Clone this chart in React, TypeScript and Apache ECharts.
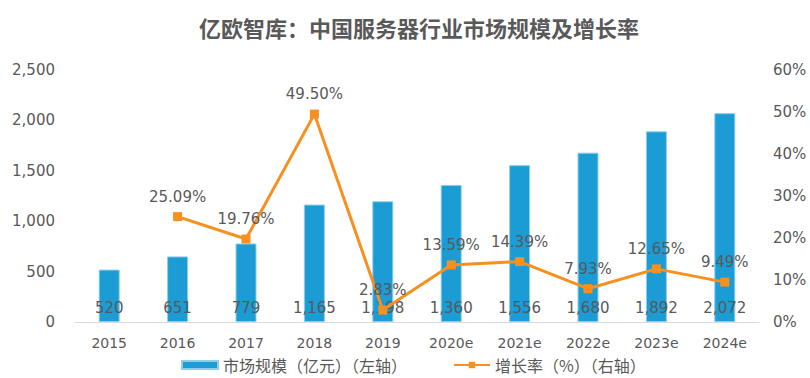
import React, { useEffect, useRef } from "react";
import * as echarts from "echarts";

const categories = ["2015", "2016", "2017", "2018", "2019", "2020e", "2021e", "2022e", "2023e", "2024e"];
const marketSize = [520, 651, 779, 1165, 1198, 1360, 1556, 1680, 1892, 2072];
const growthRate: (number | null)[] = [null, 25.09, 19.76, 49.5, 2.83, 13.59, 14.39, 7.93, 12.65, 9.49];

const titleText = "亿欧智库：中国服务器行业市场规模及增长率";
const barName = "市场规模（亿元）（左轴）";
const lineName = "增长率（%）（右轴）";

const FONT = "'DejaVu Sans', 'Noto Sans CJK SC', sans-serif";
const CJK = "'Noto Sans CJK SC', sans-serif";
const GRAY = "#595959";

export default function App() {
  const ref = useRef<HTMLDivElement>(null);
  useEffect(() => {
    if (!ref.current) return;
    const chart = echarts.init(ref.current, null, { renderer: "svg" });
    chart.setOption({
      animation: false,
      textStyle: { fontFamily: FONT },
      title: {
        text: titleText,
        left: 194,
        top: 11,
        textStyle: { fontSize: 22, fontWeight: "bold", color: GRAY, fontFamily: CJK },
      },
      legend: {
        top: 352,
        left: 176,
        itemGap: 46,
        itemWidth: 36,
        itemHeight: 8,
        textStyle: { fontSize: 16, color: GRAY, fontFamily: CJK },
        data: [
          { name: barName, icon: "rect", itemStyle: { color: "#1B9CD4" } },
          { name: lineName },
        ],
      },
      grid: { left: 75, right: 51, top: 70, bottom: 56, containLabel: false },
      xAxis: {
        type: "category",
        data: categories,
        axisLine: { lineStyle: { color: "#d9d9d9" } },
        axisTick: { show: false },
        axisLabel: { color: GRAY, fontSize: 14, margin: 14 },
      },
      yAxis: [
        {
          type: "value",
          min: 0,
          max: 2500,
          interval: 500,
          splitLine: { show: false },
          axisLine: { show: false },
          axisTick: { show: false },
          axisLabel: {
            color: GRAY,
            fontSize: 15,
            margin: 20,
            formatter: (v: number) => v.toLocaleString("en-US"),
          },
        },
        {
          type: "value",
          min: 0,
          max: 60,
          interval: 10,
          splitLine: { show: false },
          axisLine: { show: false },
          axisTick: { show: false },
          axisLabel: { color: GRAY, fontSize: 15, margin: 14, formatter: "{value}%" },
        },
      ],
      series: [
        {
          name: barName,
          type: "bar",
          data: marketSize,
          barWidth: 21,
          itemStyle: { color: "#1B9CD4", borderColor: "#8fcdea", borderWidth: 1 },
          label: {
            show: true,
            position: "insideBottom",
            distance: 7,
            color: GRAY,
            fontSize: 15,
            formatter: (p: any) => Number(p.value).toLocaleString("en-US"),
          },
        },
        {
          name: lineName,
          type: "line",
          yAxisIndex: 1,
          data: growthRate,
          connectNulls: false,
          symbol: "rect",
          symbolSize: 9,
          lineStyle: { color: "#F7901E", width: 3 },
          itemStyle: { color: "#F7901E" },
          label: {
            show: true,
            position: "top",
            distance: 8,
            color: GRAY,
            fontSize: 15,
            formatter: (p: any) => (p.value == null ? "" : Number(p.value).toFixed(2) + "%"),
          },
          z: 3,
        },
      ],
    });
    return () => chart.dispose();
  }, []);
  return <div ref={ref} style={{ position: "absolute", left: 0, top: 0, width: 810, height: 378 }} />;
}
